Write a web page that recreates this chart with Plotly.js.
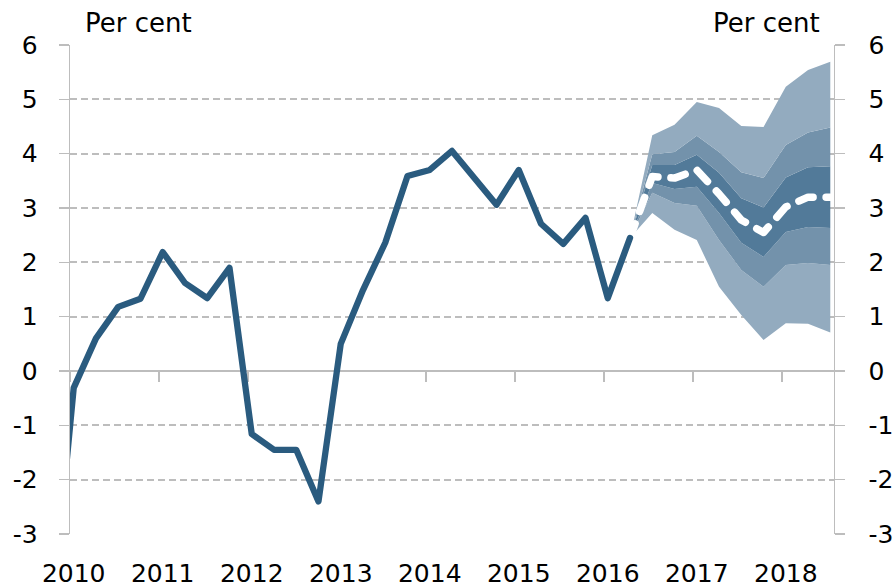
<!DOCTYPE html>
<html>
<head>
<meta charset="utf-8">
<script src="https://cdn.plot.ly/plotly-3.0.1.min.js"></script>
<style>
  html, body { margin: 0; padding: 0; background: #fff; }
  #chart { width: 895px; height: 587px; }
  .js-line { stroke-linecap: round !important; stroke-linejoin: round !important; }
</style>
</head>
<body>
<div id="chart"></div>
<script>
// ---- Data ----
// Quarterly observations, 2009 Q4 (clipped at the left edge) to 2016 Q2
const histYears    = [2009, 2010, 2010, 2010, 2010, 2011, 2011, 2011, 2011, 2012, 2012, 2012, 2012,
                      2013, 2013, 2013, 2013, 2014, 2014, 2014, 2014, 2015, 2015, 2015, 2015, 2016, 2016];
const histQuarters = [4, 1, 2, 3, 4, 1, 2, 3, 4, 1, 2, 3, 4,
                      1, 2, 3, 4, 1, 2, 3, 4, 1, 2, 3, 4, 1, 2];
const histValues   = [-4.6, -0.31, 0.60, 1.18, 1.33, 2.19, 1.62, 1.34, 1.90, -1.16, -1.45, -1.45, -2.40,
                      0.50, 1.49, 2.36, 3.59, 3.70, 4.05, 3.55, 3.06, 3.70, 2.71, 2.34, 2.82, 1.34, 2.45];

// Projection, 2016 Q2 to 2018 Q3
const fcYears    = [2016, 2016, 2016, 2017, 2017, 2017, 2017, 2018, 2018, 2018];
const fcQuarters = [2, 3, 4, 1, 2, 3, 4, 1, 2, 3];
const central    = [2.45, 3.58, 3.55, 3.70, 3.26, 2.78, 2.55, 3.02, 3.20, 3.20];
const upperOuter = [2.45, 4.34, 4.53, 4.95, 4.84, 4.51, 4.49, 5.23, 5.54, 5.69];
const upperMid   = [2.45, 3.99, 4.03, 4.33, 4.03, 3.66, 3.55, 4.16, 4.39, 4.48];
const upperInner = [2.45, 3.79, 3.79, 3.98, 3.65, 3.18, 3.01, 3.56, 3.75, 3.77];
const lowerInner = [2.45, 3.46, 3.35, 3.39, 2.91, 2.36, 2.10, 2.56, 2.65, 2.63];
const lowerMid   = [2.45, 3.28, 3.09, 3.04, 2.41, 1.86, 1.55, 1.95, 1.99, 1.95];
const lowerOuter = [2.45, 2.91, 2.60, 2.41, 1.55, 1.03, 0.57, 0.88, 0.87, 0.71];

const yearTicks  = [2010, 2011, 2012, 2013, 2014, 2015, 2016, 2017, 2018];
const yearLabels = ['2010', '2011', '2012', '2013', '2014', '2015', '2016', '2017', '2018'];
const yTicks      = [-3, -2, -1, 0, 1, 2, 3, 4, 5, 6];
const yTickLabels = ['-3', '-2', '-1', '0', '1', '2', '3', '4', '5', '6'];
const unitLabel  = 'Per cent';

// ---- Helpers: a quarter is plotted at the middle of its first month ----
const qx = (y, q) => y + (3 * (q - 1) + 0.5) / 12;
const histX = histYears.map((y, i) => qx(y, histQuarters[i]));
const fcX   = fcYears.map((y, i) => qx(y, fcQuarters[i]));

const DARK = '#2a5b7f';
const C_LIGHT = '#93abbf';
const C_MID = '#7392ab';
const C_INNER = '#527a99';
const GRID = '#bdbdbd';
const FONT = 'DejaVu Sans, Verdana, sans-serif';

const band = (y, fillColor) => ({
  x: fcX, y: y, type: 'scatter', mode: 'lines',
  line: { width: 0, color: fillColor || C_LIGHT }, fill: fillColor ? 'tonexty' : 'none',
  fillcolor: fillColor, hoverinfo: 'skip', showlegend: false
});

const traces = [
  band(lowerOuter, null),
  band(lowerMid, C_LIGHT),
  band(lowerInner, C_MID),
  band(upperInner, C_INNER),
  band(upperMid, C_MID),
  band(upperOuter, C_LIGHT),
  {
    x: histX, y: histValues, type: 'scatter', mode: 'lines',
    xaxis: 'x2', yaxis: 'y',
    line: { color: DARK, width: 6.3 }, showlegend: false
  },
  {
    x: fcX, y: central, type: 'scatter', mode: 'lines',
    xaxis: 'x', yaxis: 'y2',
    line: { color: '#ffffff', width: 7.5, dash: '15px,13px' }, showlegend: false
  }
];

const xRange = [2010, 2018 + 7 / 12];

const layout = {
  width: 895, height: 587,
  margin: { l: 70, r: 61, t: 45, b: 53, pad: 0 },
  paper_bgcolor: '#ffffff', plot_bgcolor: '#ffffff',
  showlegend: false,
  font: { family: FONT, color: '#000000', size: 25 },
  xaxis: {
    range: xRange, tickmode: 'array',
    tickvals: yearTicks.map(y => y + 0.5 / 12), ticktext: yearLabels,
    ticks: '', showgrid: false, zeroline: false, showline: false,
    tickfont: { family: FONT, size: 25, color: '#000' },
    ticklabelstandoff: 22
  },
  xaxis2: {
    overlaying: 'x', anchor: 'free', position: 1 / 3, side: 'bottom',
    range: xRange, tickmode: 'array', tickvals: yearTicks,
    ticks: 'outside', ticklen: 10, tickwidth: 1.4, tickcolor: GRID,
    showticklabels: false, showgrid: false, zeroline: false, showline: false,
    layer: 'below traces'
  },
  yaxis: {
    range: [-3, 6], tickmode: 'array', tickvals: yTicks, ticktext: yTickLabels,
    showgrid: true, gridcolor: GRID, gridwidth: 2, griddash: '7px,4px',
    zeroline: true, zerolinecolor: GRID, zerolinewidth: 1.6,
    showline: true, linecolor: GRID, linewidth: 1.4,
    ticks: 'outside', ticklen: 10, tickwidth: 1.4, tickcolor: GRID,
    tickfont: { family: FONT, size: 25, color: '#000' },
    ticklabelstandoff: 16
  },
  yaxis2: {
    overlaying: 'y', side: 'right', anchor: 'x',
    range: [-3, 6], tickmode: 'array', tickvals: yTicks, ticktext: yTickLabels,
    showgrid: false, zeroline: false,
    showline: true, linecolor: GRID, linewidth: 1.4,
    ticks: 'outside', ticklen: 10, tickwidth: 1.4, tickcolor: GRID,
    tickfont: { family: FONT, size: 25, color: '#000' },
    ticklabelstandoff: 18
  },
  annotations: [
    { text: unitLabel, xref: 'paper', yref: 'paper', x: 0.017, y: 1,
      xanchor: 'left', yanchor: 'bottom', yshift: 5, showarrow: false,
      font: { family: FONT, size: 26, color: '#000' } },
    { text: unitLabel, xref: 'paper', yref: 'paper', x: 0.984, y: 1,
      xanchor: 'right', yanchor: 'bottom', yshift: 5, showarrow: false,
      font: { family: FONT, size: 26, color: '#000' } }
  ]
};

Plotly.newPlot('chart', traces, layout, { staticPlot: true, displayModeBar: false });
</script>
</body>
</html>
